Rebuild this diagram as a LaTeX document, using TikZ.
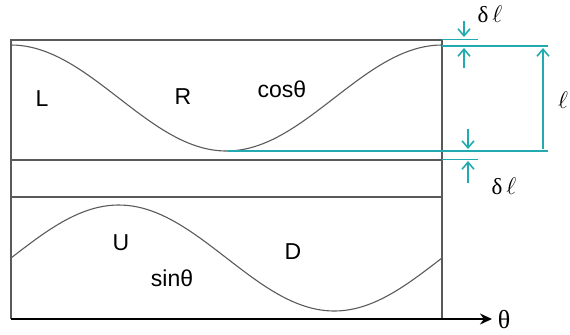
\documentclass[tikz,border=0pt]{standalone}
\usepackage{fontspec}
\setmainfont{Liberation Sans}
\newfontfamily\serifgreek{Liberation Serif}
\usetikzlibrary{arrows.meta}
\definecolor{FrameGray}{HTML}{5A5A5A}
\definecolor{GuideTeal}{HTML}{22AAB0}

\begin{document}
\begin{tikzpicture}[x=0.5pt,y=-0.5pt,
      frame/.style={draw=FrameGray,line width=0.8pt},
      wave/.style={draw=FrameGray,line width=0.55pt},
      guide/.style={GuideTeal,line width=0.8pt},
      tick/.style={GuideTeal,line width=0.8pt,-{Straight Barb[length=3.5pt,width=6pt]}},
      lbl/.style={font=\fontsize{11.5}{13}\selectfont,inner sep=0pt}]
    \useasboundingbox (0,0) rectangle (570,334);
    % frame and axis
    \coordinate (tl) at (11,40);   \coordinate (tr) at (442,40);
    \coordinate (ml) at (11,160);  \coordinate (mr) at (442,160);
    \coordinate (nl) at (11,197);  \coordinate (nr) at (442,197);
    \coordinate (bl) at (11,319);  \coordinate (br) at (442,319);
    \coordinate (ax) at (492,319);
    \draw[frame] (bl) -- (tl) -- (tr) -- (br);
    \draw[frame] (ml) -- (mr); \draw[frame] (nl) -- (nr);
    \draw[frame,draw=black,-{Stealth[length=6pt,width=5.5pt]}] (bl) -- (ax);
    \node[lbl,font=\fontsize{13}{14}\serifgreek] (theta) at (504,320) {θ};
    % curves
    \draw[wave] plot[domain=0:360,samples=90] ({11+\x/360*431},{98-53*cos(\x)});
    \draw[wave] plot[domain=0:360,samples=90] ({11+\x/360*431},{258-53*sin(\x)});
    \node[lbl] (L)   at (42,99)   {L};
    \node[lbl] (R)   at (183,97)  {R};
    \node[lbl] (cos) at (282,89)  {cosθ};
    \node[lbl] (U)   at (121,243) {U};
    \node[lbl] (D)   at (293,252) {D};
    \node[lbl] (sin) at (172,278) {sinθ};
    % guides
    \coordinate (g0a) at (442,39);  \coordinate (g0b) at (478,39);
    \coordinate (g1a) at (442,46);  \coordinate (g1b) at (548,46);
    \coordinate (g2a) at (228,151); \coordinate (g2b) at (548,151);
    \coordinate (g3a) at (442,159); \coordinate (g3b) at (478,159);
    \draw[guide,line width=0.5pt] (g0a) -- (g0b);
    \draw[guide] (g1a) -- (g1b); \draw[guide] (g2a) -- (g2b);
    \draw[guide,line width=0.5pt] (g3a) -- (g3b);
    \coordinate (a1) at (464,21);  \coordinate (a1e) at (464,37);
    \coordinate (a2) at (464,68);  \coordinate (a2e) at (464,48);
    \coordinate (a3) at (468,129); \coordinate (a3e) at (468,149);
    \coordinate (a4) at (468,183); \coordinate (a4e) at (468,161);
    \coordinate (l1) at (543,48);  \coordinate (l2) at (543,149);
    \draw[tick] (a1) -- (a1e); \draw[tick] (a2) -- (a2e);
    \draw[tick] (a3) -- (a3e); \draw[tick] (a4) -- (a4e);
    \draw[tick,{Straight Barb[length=3.5pt,width=6pt]}-] (l1) -- (l2);
    \node[lbl] (dtop) at (490,14)  {{\serifgreek δ}\,$\ell$};
    \node[lbl] (dbot) at (504,186) {{\serifgreek δ}\,$\ell$};
    \node[lbl] (ell)  at (563,100) {$\ell$};
\end{tikzpicture}
\end{document}
